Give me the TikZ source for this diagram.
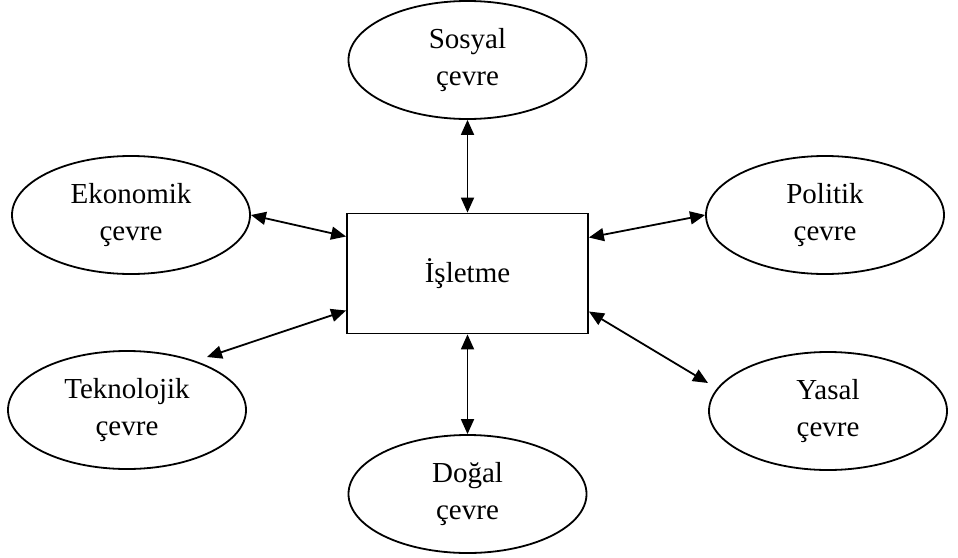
\documentclass[tikz,border=0pt]{standalone}
\usepackage{fontspec}
\setmainfont{Liberation Serif}
\usetikzlibrary{arrows.meta,shapes.geometric}
\tikzset{
  env/.style={draw, ellipse, line width=1.8pt, minimum width=238pt, minimum height=118pt,
              inner sep=0pt, align=center, font=\fontsize{29}{37}\selectfont},
  firm/.style={draw, rectangle, line width=1.8pt, minimum width=241pt, minimum height=120pt,
               inner sep=0pt, font=\fontsize{29}{37}\selectfont},
  link/.style={{Triangle[length=15pt,width=13pt]}-{Triangle[length=15pt,width=13pt]}, line width=1.8pt},
}
\begin{document}
\begin{tikzpicture}[x=1pt,y=-1pt]
  \useasboundingbox (0,0) rectangle (958,557);
  \node[firm] (box) at (467.5,273.5) {İşletme};
  \node[env] (soc) at (467.5,60) {Sosyal\\çevre};
  \node[env] (ek) at (131,215) {Ekonomik\\çevre};
  \node[env] (pol) at (825,215) {Politik\\çevre};
  \node[env] (tek) at (127,410) {Teknolojik\\çevre};
  \node[env] (dog) at (467.5,494) {Doğal\\çevre};
  \node[env] (yas) at (828,411) {Yasal\\çevre};
  % ends on the box sides
  \coordinate (bwU) at ([yshift=37pt]box.west);
  \coordinate (bwD) at ([yshift=-37pt]box.west);
  \coordinate (beU) at ([yshift=36pt]box.east);
  \coordinate (beD) at ([yshift=-38pt]box.east);
  % free ends near the lower ellipses
  \coordinate (tekend) at (207,357);
  \coordinate (yasend) at (708,383);
  \draw[link] (soc.south) -- (box.north);
  \draw[link] (box.south) -- (dog.north);
  \draw[link] (ek.east) -- (bwU);
  \draw[link] (beU) -- (pol.west);
  \draw[link] (tekend) -- (bwD);
  \draw[link] (beD) -- (yasend);
\end{tikzpicture}
\end{document}
